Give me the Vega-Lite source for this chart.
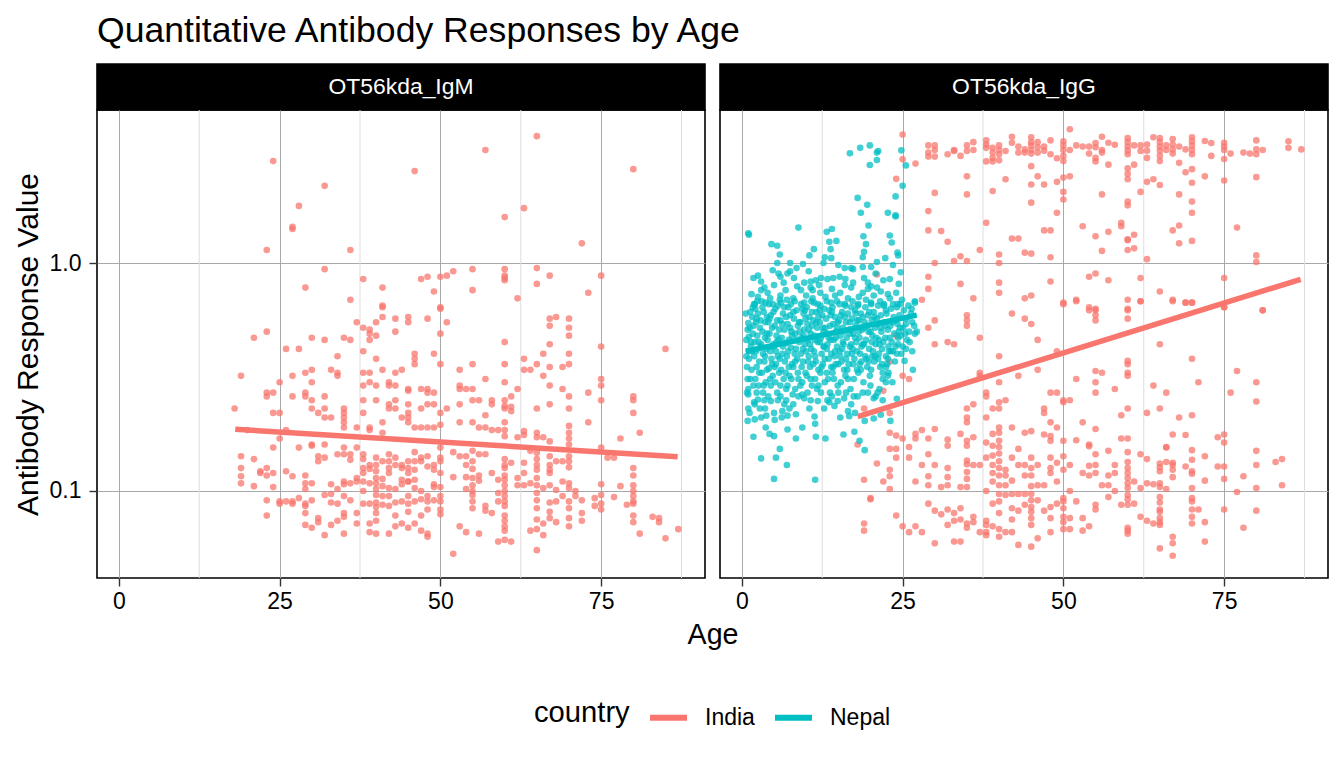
{
  "$schema": "https://vega.github.io/schema/vega-lite/v6.json",
  "padding": {"left": 12, "top": 13, "right": 10, "bottom": 5},
  "title": {"text": "Quantitative Antibody Responses by Age", "anchor": "start", "frame": "group", "fontSize": 35.6, "fontWeight": "normal", "font": "Liberation Sans", "color": "#000", "offset": 14},
  "datasets": {
    "igm_india": [
      {"age":24,"value":2.8},{"age":32,"value":2.18},{"age":28,"value":1.78},{"age":27,"value":1.44},{"age":27,"value":1.41},{"age":23,"value":1.14},{"age":36,"value":1.14},{"age":46,"value":2.53},{"age":57,"value":3.13},{"age":65,"value":3.6},{"age":80,"value":2.58},{"age":63,"value":1.74},{"age":60,"value":1.59},{"age":72,"value":1.22},
      {"age":32,"value":0.94},{"age":29,"value":0.78},{"age":36,"value":0.69},{"age":38,"value":0.85},{"age":41,"value":0.78},{"age":41,"value":0.65},{"age":41,"value":0.64},{"age":47,"value":0.85},{"age":48,"value":0.87},{"age":49,"value":0.75},{"age":50,"value":0.87},{"age":50,"value":0.64},{"age":51,"value":0.88},{"age":52,"value":0.92},{"age":55,"value":0.94},{"age":55,"value":0.76},{"age":60,"value":0.94},{"age":60,"value":0.88},{"age":60,"value":0.86},{"age":60,"value":0.84},{"age":62,"value":0.7},{"age":65,"value":0.95},{"age":65,"value":0.81},{"age":67,"value":0.88},{"age":73,"value":0.74},{"age":75,"value":0.88},
      {"age":50,"value":0.63},{"age":41,"value":0.58},{"age":43,"value":0.57},{"age":45,"value":0.58},{"age":45,"value":0.55},{"age":48,"value":0.57},{"age":51,"value":0.55},{"age":37,"value":0.55},{"age":38,"value":0.52},{"age":39,"value":0.51},{"age":39,"value":0.49},{"age":39,"value":0.46},{"age":40,"value":0.55},{"age":40,"value":0.48},{"age":43,"value":0.5},{"age":50,"value":0.49},{"age":21,"value":0.47},{"age":23,"value":0.5},{"age":30,"value":0.47},{"age":32,"value":0.46},{"age":35,"value":0.47},{"age":36,"value":0.46},{"age":26,"value":0.42},{"age":28,"value":0.42},{"age":38,"value":0.41},{"age":34,"value":0.39},{"age":46,"value":0.4},{"age":46,"value":0.38},{"age":46,"value":0.36},{"age":49,"value":0.4},{"age":50,"value":0.36},{"age":40,"value":0.38},
      {"age":19,"value":0.32},{"age":25,"value":0.3},{"age":27,"value":0.32},{"age":29,"value":0.33},{"age":30,"value":0.34},{"age":30,"value":0.3},{"age":33,"value":0.34},{"age":34,"value":0.33},{"age":34,"value":0.32},{"age":38,"value":0.33},{"age":39,"value":0.33},{"age":41,"value":0.34},{"age":43,"value":0.33},{"age":44,"value":0.34},{"age":38,"value":0.29},{"age":39,"value":0.3},{"age":40,"value":0.29},{"age":42,"value":0.3},{"age":42,"value":0.29},{"age":43,"value":0.29},{"age":45,"value":0.28},{"age":45,"value":0.275},{"age":47,"value":0.28},{"age":48,"value":0.28},{"age":48,"value":0.27},{"age":49,"value":0.27},{"age":23,"value":0.27},{"age":24,"value":0.27},{"age":23,"value":0.26},{"age":29,"value":0.27},{"age":29,"value":0.26},{"age":27,"value":0.26},{"age":30,"value":0.25},{"age":32,"value":0.26},
      {"age":18,"value":0.23},{"age":25,"value":0.22},{"age":24,"value":0.22},{"age":30,"value":0.23},{"age":31,"value":0.22},{"age":32,"value":0.23},{"age":32,"value":0.21},{"age":33,"value":0.21},{"age":35,"value":0.23},{"age":35,"value":0.22},{"age":35,"value":0.21},{"age":35,"value":0.2},{"age":35,"value":0.19},{"age":38,"value":0.25},{"age":38,"value":0.22},{"age":40,"value":0.25},{"age":42,"value":0.24},{"age":42,"value":0.23},{"age":43,"value":0.25},{"age":43,"value":0.23},{"age":45,"value":0.24},{"age":45,"value":0.22},{"age":45,"value":0.21},{"age":45,"value":0.2},{"age":47,"value":0.23},{"age":48,"value":0.24},{"age":49,"value":0.24},{"age":50,"value":0.22},{"age":51,"value":0.23},
      {"age":20,"value":0.185},{"age":26,"value":0.185},{"age":25,"value":0.17},{"age":37,"value":0.19},{"age":39,"value":0.19},{"age":39,"value":0.185},{"age":41,"value":0.2},{"age":41,"value":0.18},{"age":44,"value":0.21},{"age":46,"value":0.19},{"age":47,"value":0.19},{"age":48,"value":0.19},{"age":49,"value":0.19},{"age":50,"value":0.195},
      {"age":24,"value":0.155},{"age":28,"value":0.155},{"age":30,"value":0.16},{"age":30,"value":0.158},{"age":32,"value":0.16},{"age":34,"value":0.145},{"age":35,"value":0.155},{"age":35,"value":0.145},{"age":37,"value":0.155},{"age":19,"value":0.142},{"age":21,"value":0.138},{"age":31,"value":0.142},{"age":31,"value":0.135},{"age":32,"value":0.14},{"age":36,"value":0.145},{"age":36,"value":0.137},{"age":38,"value":0.145},{"age":38,"value":0.138},{"age":38,"value":0.126},{"age":38,"value":0.12},{"age":39,"value":0.13},{"age":39,"value":0.125},{"age":40,"value":0.14},{"age":40,"value":0.13},{"age":40,"value":0.122},{"age":40,"value":0.114},{"age":41,"value":0.135},{"age":41,"value":0.113},{"age":42,"value":0.145},{"age":42,"value":0.135},{"age":42,"value":0.126},{"age":42,"value":0.12},{"age":43,"value":0.14},{"age":43,"value":0.13},{"age":44,"value":0.13},{"age":44,"value":0.126},{"age":44,"value":0.112},{"age":45,"value":0.135},{"age":45,"value":0.126},{"age":45,"value":0.12},{"age":45,"value":0.11},{"age":46,"value":0.148},{"age":46,"value":0.135},{"age":46,"value":0.124},{"age":46,"value":0.112},{"age":47,"value":0.14},{"age":47,"value":0.135},{"age":48,"value":0.142},{"age":48,"value":0.128},{"age":49,"value":0.13},{"age":49,"value":0.124},{"age":49,"value":0.104},{"age":50,"value":0.155},{"age":50,"value":0.14},{"age":50,"value":0.135},{"age":50,"value":0.12},{"age":50,"value":0.104},
      {"age":19,"value":0.126},{"age":19,"value":0.116},{"age":19,"value":0.108},{"age":22,"value":0.122},{"age":22,"value":0.12},{"age":23,"value":0.126},{"age":23,"value":0.117},{"age":24,"value":0.12},{"age":21,"value":0.105},{"age":24,"value":0.104},{"age":26,"value":0.122},{"age":27,"value":0.116},{"age":29,"value":0.117},{"age":29,"value":0.108},{"age":29,"value":0.102},{"age":30,"value":0.108},{"age":33,"value":0.107},{"age":34,"value":0.102},{"age":35,"value":0.11},{"age":35,"value":0.107},{"age":36,"value":0.108},{"age":37,"value":0.114},{"age":37,"value":0.11},{"age":38,"value":0.11},{"age":38,"value":0.1},{"age":39,"value":0.108},{"age":40,"value":0.108},{"age":40,"value":0.102},{"age":40,"value":0.096},{"age":40,"value":0.089},{"age":40,"value":0.085},{"age":41,"value":0.105},{"age":41,"value":0.095},{"age":42,"value":0.103},{"age":42,"value":0.095},{"age":43,"value":0.102},{"age":44,"value":0.107},{"age":45,"value":0.11},{"age":46,"value":0.103},{"age":47,"value":0.1},{"age":48,"value":0.095},{"age":49,"value":0.107},{"age":50,"value":0.095},{"age":50,"value":0.09},
      {"age":23,"value":0.091},{"age":25,"value":0.09},{"age":25,"value":0.088},{"age":26,"value":0.09},{"age":27,"value":0.088},{"age":27,"value":0.09},{"age":28,"value":0.093},{"age":29,"value":0.088},{"age":29,"value":0.086},{"age":30,"value":0.091},{"age":32,"value":0.096},{"age":33,"value":0.097},{"age":33,"value":0.089},{"age":34,"value":0.088},{"age":35,"value":0.095},{"age":36,"value":0.091},{"age":38,"value":0.088},{"age":39,"value":0.088},{"age":41,"value":0.087},{"age":42,"value":0.086},{"age":43,"value":0.089},{"age":44,"value":0.09},{"age":45,"value":0.095},{"age":45,"value":0.088},{"age":46,"value":0.09},{"age":47,"value":0.092},{"age":48,"value":0.09},{"age":48,"value":0.083},{"age":49,"value":0.091},{"age":50,"value":0.083},{"age":50,"value":0.079},
      {"age":23,"value":0.078},{"age":29,"value":0.08},{"age":29,"value":0.071},{"age":30,"value":0.069},{"age":31,"value":0.076},{"age":31,"value":0.073},{"age":33,"value":0.071},{"age":34,"value":0.074},{"age":35,"value":0.08},{"age":35,"value":0.077},{"age":37,"value":0.08},{"age":37,"value":0.072},{"age":39,"value":0.072},{"age":40,"value":0.08},{"age":40,"value":0.074},{"age":43,"value":0.078},{"age":43,"value":0.07},{"age":44,"value":0.072},{"age":45,"value":0.081},{"age":45,"value":0.069},{"age":46,"value":0.072},{"age":47,"value":0.078},{"age":47,"value":0.067},{"age":48,"value":0.065},{"age":48,"value":0.063},{"age":32,"value":0.064},{"age":35,"value":0.065},{"age":39,"value":0.066},{"age":40,"value":0.065},{"age":42,"value":0.065},
      {"age":67,"value":0.57},{"age":67,"value":0.53},{"age":68,"value":0.58},{"age":70,"value":0.57},{"age":70,"value":0.52},{"age":70,"value":0.48},{"age":70,"value":0.4},{"age":70,"value":0.36},{"age":75,"value":0.43},{"age":85,"value":0.42},{"age":60,"value":0.45},{"age":60,"value":0.36},{"age":60,"value":0.3},{"age":67,"value":0.44},{"age":66,"value":0.4},{"age":65,"value":0.36},{"age":67,"value":0.35},{"age":66,"value":0.32},{"age":67,"value":0.29},{"age":67,"value":0.24},{"age":69,"value":0.35},{"age":69,"value":0.28},{"age":65,"value":0.23},{"age":63,"value":0.38},{"age":63,"value":0.34},{"age":64,"value":0.34},{"age":53,"value":0.34},{"age":55,"value":0.36},{"age":57,"value":0.31},{"age":53,"value":0.29},{"age":53,"value":0.28},{"age":54,"value":0.28},{"age":55,"value":0.28},{"age":53,"value":0.24},{"age":55,"value":0.25},{"age":56,"value":0.25},{"age":58,"value":0.25},{"age":58,"value":0.24},{"age":61,"value":0.26},{"age":62,"value":0.28},{"age":60,"value":0.25},{"age":60,"value":0.236},{"age":60,"value":0.23},{"age":61,"value":0.234},{"age":61,"value":0.224},{"age":70,"value":0.26},{"age":70,"value":0.23},{"age":73,"value":0.27},{"age":75,"value":0.31},{"age":75,"value":0.29},{"age":75,"value":0.25},{"age":80,"value":0.26},{"age":80,"value":0.25},{"age":80,"value":0.22},
      {"age":53,"value":0.2},{"age":55,"value":0.2},{"age":56,"value":0.19},{"age":57,"value":0.19},{"age":57,"value":0.215},{"age":58,"value":0.185},{"age":59,"value":0.185},{"age":60,"value":0.2},{"age":60,"value":0.185},{"age":60,"value":0.174},{"age":62,"value":0.172},{"age":63,"value":0.183},{"age":63,"value":0.176},{"age":65,"value":0.18},{"age":65,"value":0.172},{"age":66,"value":0.172},{"age":67,"value":0.165},{"age":70,"value":0.193},{"age":70,"value":0.18},{"age":70,"value":0.17},{"age":70,"value":0.16},{"age":73,"value":0.2},{"age":78,"value":0.17},{"age":81,"value":0.18},{"age":75,"value":0.155},
      {"age":52,"value":0.148},{"age":53,"value":0.142},{"age":54,"value":0.142},{"age":56,"value":0.145},{"age":57,"value":0.145},{"age":55,"value":0.15},{"age":55,"value":0.135},{"age":55,"value":0.125},{"age":60,"value":0.138},{"age":60,"value":0.13},{"age":60,"value":0.126},{"age":60,"value":0.117},{"age":60,"value":0.112},{"age":60,"value":0.106},{"age":60,"value":0.1},{"age":60,"value":0.095},{"age":61,"value":0.133},{"age":63,"value":0.133},{"age":64,"value":0.15},{"age":65,"value":0.147},{"age":65,"value":0.138},{"age":65,"value":0.13},{"age":65,"value":0.124},{"age":67,"value":0.142},{"age":67,"value":0.13},{"age":67,"value":0.124},{"age":67,"value":0.12},{"age":68,"value":0.135},{"age":69,"value":0.135},{"age":70,"value":0.142},{"age":70,"value":0.135},{"age":70,"value":0.127},{"age":76,"value":0.14},{"age":77,"value":0.14},{"age":80,"value":0.126},{"age":80,"value":0.117},{"age":80,"value":0.106},{"age":80,"value":0.1},{"age":80,"value":0.095},{"age":80,"value":0.09},{"age":80,"value":0.088},
      {"age":52,"value":0.115},{"age":54,"value":0.13},{"age":54,"value":0.115},{"age":54,"value":0.102},{"age":55,"value":0.114},{"age":55,"value":0.106},{"age":55,"value":0.1},{"age":55,"value":0.096},{"age":55,"value":0.09},{"age":55,"value":0.084},{"age":56,"value":0.117},{"age":56,"value":0.111},{"age":57,"value":0.086},{"age":57,"value":0.082},{"age":58,"value":0.08},{"age":58,"value":0.12},{"age":59,"value":0.112},{"age":59,"value":0.098},{"age":59,"value":0.09},{"age":60,"value":0.09},{"age":60,"value":0.086},{"age":60,"value":0.078},{"age":60,"value":0.074},{"age":60,"value":0.07},{"age":60,"value":0.067},{"age":62,"value":0.114},{"age":62,"value":0.106},{"age":63,"value":0.12},{"age":63,"value":0.106},{"age":64,"value":0.108},{"age":65,"value":0.114},{"age":65,"value":0.106},{"age":65,"value":0.098},{"age":65,"value":0.091},{"age":65,"value":0.084},{"age":65,"value":0.075},{"age":65,"value":0.068},{"age":66,"value":0.103},{"age":67,"value":0.106},{"age":68,"value":0.101},{"age":69,"value":0.11},{"age":69,"value":0.095},{"age":67,"value":0.089},{"age":68,"value":0.09},{"age":67,"value":0.081},{"age":67,"value":0.076},{"age":70,"value":0.108},{"age":70,"value":0.103},{"age":70,"value":0.09},{"age":70,"value":0.084},{"age":70,"value":0.076},{"age":70,"value":0.07},{"age":71,"value":0.1},{"age":72,"value":0.08},{"age":71,"value":0.095},{"age":72,"value":0.091},{"age":72,"value":0.074},{"age":74,"value":0.093},{"age":74,"value":0.086},{"age":75,"value":0.107},{"age":75,"value":0.096},{"age":75,"value":0.088},{"age":75,"value":0.083},{"age":78,"value":0.105},{"age":77,"value":0.094},{"age":79,"value":0.087},{"age":80,"value":0.078},{"age":80,"value":0.073},{"age":83,"value":0.077},{"age":84,"value":0.076},{"age":84,"value":0.073},{"age":81,"value":0.065},{"age":85,"value":0.062},{"age":87,"value":0.068},{"age":66,"value":0.064},{"age":65,"value":0.055},{"age":64,"value":0.067},{"age":59,"value":0.06},{"age":60,"value":0.061},{"age":61,"value":0.06},{"age":52,"value":0.053},{"age":56,"value":0.065},{"age":54,"value":0.066},{"age":53,"value":0.07},{"age":68,"value":0.073},{"age":66,"value":0.072}
    ],
    "igm_fit": [
      {"country":"India","age":18.1,"value":0.1865},{"country":"India","age":86.9,"value":0.1414}
    ],
    "igg_india": [
      {"age":25,"value":3.66},{"age":25,"value":2.85},{"age":27,"value":2.73},{"age":29,"value":3.28},{"age":29,"value":3.05},{"age":29,"value":2.93},{"age":30,"value":3.28},{"age":30,"value":3.13},{"age":30,"value":2.93},{"age":32,"value":3.0},{"age":33,"value":3.13},{"age":33,"value":3.1},{"age":34,"value":2.95},{"age":35,"value":3.28},{"age":35,"value":3.1},{"age":36,"value":3.39},{"age":36,"value":3.13},{"age":38,"value":3.45},{"age":38,"value":3.31},{"age":38,"value":3.2},{"age":38,"value":2.79},{"age":39,"value":3.2},{"age":39,"value":3.05},{"age":39,"value":2.89},{"age":39,"value":2.79},{"age":40,"value":3.28},{"age":40,"value":3.13},{"age":40,"value":3.0},{"age":40,"value":2.82},{"age":41,"value":3.1},{"age":42,"value":3.58},{"age":42,"value":3.37},{"age":43,"value":3.24},{"age":43,"value":3.05},{"age":44,"value":3.15},{"age":44,"value":3.05},{"age":45,"value":3.56},{"age":45,"value":3.39},{"age":45,"value":3.28},{"age":45,"value":3.13},{"age":45,"value":3.02},{"age":46,"value":3.39},{"age":46,"value":3.22},{"age":46,"value":3.05},{"age":47,"value":3.24},{"age":47,"value":3.11},{"age":48,"value":3.45},{"age":48,"value":3.0},{"age":49,"value":2.88},{"age":50,"value":3.42},{"age":50,"value":3.28},{"age":50,"value":3.13},{"age":50,"value":2.95},{"age":50,"value":2.8},{"age":51,"value":3.86},{"age":51,"value":3.13},{"age":52,"value":3.28},{"age":53,"value":3.24},{"age":54,"value":3.24},{"age":54,"value":3.02},{"age":55,"value":3.36},{"age":55,"value":3.22},{"age":55,"value":2.89},{"age":55,"value":2.79},{"age":56,"value":3.58},{"age":56,"value":3.13},{"age":56,"value":3.05},{"age":57,"value":3.37},{"age":58,"value":3.3},{"age":60,"value":3.53},{"age":60,"value":3.39},{"age":60,"value":3.24},{"age":60,"value":3.11},{"age":60,"value":3.0},{"age":61,"value":3.28},{"age":62,"value":3.28},{"age":62,"value":3.1},{"age":63,"value":3.31},{"age":63,"value":3.11},{"age":63,"value":2.89},{"age":64,"value":3.56},{"age":65,"value":3.53},{"age":65,"value":3.39},{"age":65,"value":3.24},{"age":65,"value":3.11},{"age":65,"value":2.95},{"age":65,"value":2.8},{"age":66,"value":3.28},{"age":66,"value":3.13},{"age":67,"value":3.5},{"age":67,"value":3.31},{"age":67,"value":3.15},{"age":67,"value":3.02},{"age":68,"value":3.24},{"age":68,"value":2.75},{"age":69,"value":3.15},{"age":70,"value":3.56},{"age":70,"value":3.42},{"age":70,"value":3.28},{"age":70,"value":3.13},{"age":70,"value":3.0},{"age":72,"value":3.43},{"age":73,"value":3.36},{"age":73,"value":2.95},{"age":75,"value":3.37},{"age":75,"value":3.24},{"age":75,"value":3.13},{"age":75,"value":2.86},{"age":76,"value":3.02},{"age":78,"value":3.05},{"age":79,"value":3.02},{"age":80,"value":3.45},{"age":80,"value":3.15},{"age":80,"value":3.0},{"age":81,"value":3.13},{"age":85,"value":3.42},{"age":85,"value":3.2},{"age":87,"value":3.15},
      {"age":24,"value":2.34},{"age":30,"value":2.03},{"age":35,"value":2.4},{"age":35,"value":2.0},{"age":39,"value":2.07},{"age":41,"value":2.33},{"age":45,"value":2.66},{"age":45,"value":2.21},{"age":45,"value":1.84},{"age":46,"value":2.4},{"age":47,"value":2.21},{"age":49,"value":2.27},{"age":49,"value":1.66},{"age":50,"value":2.37},{"age":50,"value":2.05},{"age":50,"value":1.9},{"age":51,"value":2.4},{"age":56,"value":2.0},{"age":57,"value":2.7},{"age":60,"value":2.6},{"age":60,"value":2.46},{"age":60,"value":2.33},{"age":60,"value":1.86},{"age":60,"value":1.79},{"age":61,"value":2.7},{"age":62,"value":2.05},{"age":63,"value":2.27},{"age":64,"value":2.33},{"age":65,"value":2.2},{"age":68,"value":2.0},{"age":69,"value":2.5},{"age":70,"value":2.58},{"age":70,"value":2.25},{"age":70,"value":1.86},{"age":70,"value":1.66},{"age":72,"value":2.4},{"age":75,"value":2.3},{"age":80,"value":2.38},{"age":29,"value":1.69},{"age":38,"value":1.5},{"age":48,"value":1.39},{"age":53,"value":1.45},{"age":29,"value":1.39},{"age":31,"value":1.38},{"age":32,"value":1.24},{"age":42,"value":1.28},{"age":43,"value":1.28},{"age":47,"value":1.39},{"age":55,"value":1.31},{"age":57,"value":1.37},{"age":59,"value":1.5},{"age":59,"value":1.45},{"age":60,"value":1.27},{"age":60,"value":1.26},{"age":61,"value":1.33},{"age":67,"value":1.39},{"age":68,"value":1.46},{"age":68,"value":1.22},{"age":70,"value":1.25},{"age":77,"value":1.43},{"age":34,"value":1.07},{"age":35,"value":1.02},{"age":33,"value":1.02},{"age":37,"value":1.14},{"age":40,"value":1.09},{"age":40,"value":1.0},{"age":44,"value":1.11},{"age":45,"value":1.1},{"age":48,"value":1.06},{"age":56,"value":1.13},{"age":60,"value":1.14},{"age":61,"value":1.16},{"age":63,"value":1.04},{"age":80,"value":1.08},{"age":80,"value":1.01},{"age":30,"value":1.0},
      {"age":21,"value":0.89},{"age":29,"value":0.87},{"age":29,"value":0.77},{"age":34,"value":0.81},{"age":40,"value":0.82},{"age":40,"value":0.74},{"age":48,"value":0.83},{"age":54,"value":0.87},{"age":55,"value":0.9},{"age":57,"value":0.84},{"age":62,"value":0.86},{"age":75,"value":0.86},{"age":65,"value":0.75},{"age":36,"value":0.7},{"age":44,"value":0.7},{"age":45,"value":0.72},{"age":28,"value":0.69},{"age":52,"value":0.69},{"age":60,"value":0.69},{"age":62,"value":0.68},{"age":67,"value":0.69},{"age":69,"value":0.67},{"age":70,"value":0.67},{"age":50,"value":0.66},{"age":54,"value":0.64},{"age":55,"value":0.63},{"age":60,"value":0.63},{"age":75,"value":0.64},{"age":81,"value":0.62},
      {"age":35,"value":0.59},{"age":35,"value":0.56},{"age":35,"value":0.53},{"age":42,"value":0.6},{"age":44,"value":0.57},{"age":45,"value":0.54},{"age":46,"value":0.46},{"age":50,"value":0.67},{"age":52,"value":0.68},{"age":29,"value":0.52},{"age":30,"value":0.56},{"age":32,"value":0.45},{"age":33,"value":0.44},{"age":30,"value":0.44},{"age":37,"value":0.47},{"age":40,"value":0.39},{"age":49,"value":0.41},{"age":46,"value":0.34},{"age":43,"value":0.32},{"age":40,"value":0.3},{"age":37,"value":0.33},{"age":37,"value":0.32},{"age":52,"value":0.31},{"age":24,"value":0.48},{"age":23,"value":0.37},{"age":22,"value":0.275},{"age":25,"value":0.32},{"age":26,"value":0.31},{"age":38,"value":0.27},{"age":38,"value":0.26},{"age":41,"value":0.25},{"age":40,"value":0.245},{"age":40,"value":0.23},{"age":39,"value":0.23},{"age":36,"value":0.24},{"age":35,"value":0.23},{"age":48,"value":0.27},{"age":49,"value":0.27},{"age":50,"value":0.25},{"age":50,"value":0.245},{"age":51,"value":0.25},{"age":47,"value":0.23},{"age":47,"value":0.22},{"age":19,"value":0.23},{"age":23,"value":0.22},{"age":35,"value":0.21},{"age":35,"value":0.2},{"age":38,"value":0.21},{"age":40,"value":0.19},{"age":40,"value":0.18},{"age":42,"value":0.19},{"age":48,"value":0.2},{"age":49,"value":0.19},{"age":53,"value":0.2},
      {"age":23,"value":0.18},{"age":24,"value":0.175},{"age":25,"value":0.17},{"age":27,"value":0.178},{"age":27,"value":0.17},{"age":28,"value":0.185},{"age":29,"value":0.17},{"age":30,"value":0.187},{"age":34,"value":0.178},{"age":36,"value":0.172},{"age":32,"value":0.168},{"age":32,"value":0.158},{"age":35,"value":0.166},{"age":35,"value":0.158},{"age":38,"value":0.163},{"age":39,"value":0.178},{"age":39,"value":0.158},{"age":40,"value":0.166},{"age":40,"value":0.156},{"age":40,"value":0.146},{"age":44,"value":0.18},{"age":45,"value":0.183},{"age":47,"value":0.177},{"age":48,"value":0.174},{"age":48,"value":0.166},{"age":50,"value":0.166},{"age":52,"value":0.167},{"age":54,"value":0.16},{"age":23,"value":0.153},{"age":24,"value":0.153},{"age":24,"value":0.14},{"age":26,"value":0.156},{"age":26,"value":0.14},{"age":29,"value":0.145},{"age":18,"value":0.16},
      {"age":19,"value":0.112},{"age":20,"value":0.093},{"age":22,"value":0.11},{"age":23,"value":0.124},{"age":23,"value":0.116},{"age":23,"value":0.102},{"age":21,"value":0.132},{"age":27,"value":0.11},{"age":28,"value":0.13},{"age":29,"value":0.116},{"age":29,"value":0.106},{"age":30,"value":0.13},{"age":31,"value":0.104},{"age":32,"value":0.126},{"age":32,"value":0.115},{"age":32,"value":0.106},{"age":34,"value":0.104},{"age":35,"value":0.136},{"age":35,"value":0.131},{"age":35,"value":0.121},{"age":35,"value":0.113},{"age":35,"value":0.104},{"age":36,"value":0.13},{"age":37,"value":0.13},{"age":38,"value":0.14},{"age":38,"value":0.1},{"age":39,"value":0.143},{"age":39,"value":0.13},{"age":39,"value":0.12},{"age":39,"value":0.11},{"age":39,"value":0.088},{"age":40,"value":0.135},{"age":40,"value":0.126},{"age":40,"value":0.117},{"age":40,"value":0.106},{"age":40,"value":0.097},{"age":40,"value":0.09},{"age":40,"value":0.08},{"age":40,"value":0.068},{"age":40,"value":0.063},{"age":41,"value":0.124},{"age":41,"value":0.117},{"age":41,"value":0.106},{"age":41,"value":0.096},{"age":42,"value":0.14},{"age":42,"value":0.111},{"age":42,"value":0.097},{"age":42,"value":0.084},{"age":42,"value":0.075},{"age":43,"value":0.153},{"age":43,"value":0.13},{"age":43,"value":0.097},{"age":43,"value":0.082},{"age":44,"value":0.13},{"age":44,"value":0.117},{"age":44,"value":0.097},{"age":44,"value":0.087},{"age":45,"value":0.14},{"age":45,"value":0.126},{"age":45,"value":0.117},{"age":45,"value":0.105},{"age":45,"value":0.097},{"age":45,"value":0.091},{"age":45,"value":0.085},{"age":45,"value":0.081},{"age":45,"value":0.076},{"age":45,"value":0.071},{"age":46,"value":0.13},{"age":46,"value":0.106},{"age":46,"value":0.091},{"age":47,"value":0.106},{"age":47,"value":0.082},{"age":48,"value":0.14},{"age":48,"value":0.126},{"age":48,"value":0.12},{"age":48,"value":0.085},{"age":48,"value":0.076},{"age":49,"value":0.133},{"age":49,"value":0.11},{"age":49,"value":0.088},{"age":50,"value":0.142},{"age":50,"value":0.124},{"age":50,"value":0.093},{"age":50,"value":0.09},{"age":50,"value":0.084},{"age":50,"value":0.077},{"age":50,"value":0.073},{"age":50,"value":0.068},{"age":51,"value":0.13},{"age":51,"value":0.1},{"age":51,"value":0.068},{"age":52,"value":0.09},{"age":53,"value":0.12},{"age":53,"value":0.067},
      {"age":19,"value":0.072},{"age":19,"value":0.067},{"age":20,"value":0.092},{"age":24,"value":0.078},{"age":25,"value":0.07},{"age":26,"value":0.066},{"age":27,"value":0.07},{"age":28,"value":0.066},{"age":29,"value":0.088},{"age":30,"value":0.082},{"age":30,"value":0.059},{"age":31,"value":0.079},{"age":32,"value":0.083},{"age":32,"value":0.071},{"age":33,"value":0.08},{"age":33,"value":0.074},{"age":33,"value":0.06},{"age":34,"value":0.084},{"age":34,"value":0.075},{"age":34,"value":0.06},{"age":35,"value":0.072},{"age":35,"value":0.069},{"age":36,"value":0.077},{"age":36,"value":0.073},{"age":37,"value":0.066},{"age":38,"value":0.074},{"age":38,"value":0.071},{"age":38,"value":0.066},{"age":38,"value":0.064},{"age":39,"value":0.07},{"age":41,"value":0.066},{"age":42,"value":0.066},{"age":43,"value":0.058},{"age":45,"value":0.057},{"age":46,"value":0.062},{"age":48,"value":0.066},{"age":51,"value":0.076},{"age":53,"value":0.076},
      {"age":55,"value":0.62},{"age":55,"value":0.59},{"age":55,"value":0.56},{"age":54,"value":0.62},{"age":60,"value":0.62},{"age":60,"value":0.57},{"age":62,"value":0.68},{"age":67,"value":0.68},{"age":69,"value":0.67},{"age":70,"value":0.67},{"age":75,"value":0.64},{"age":81,"value":0.62},{"age":65,"value":0.44},{"age":70,"value":0.38},{"age":55,"value":0.336},{"age":56,"value":0.33},{"age":60,"value":0.372},{"age":60,"value":0.36},{"age":60,"value":0.33},{"age":60,"value":0.32},{"age":55,"value":0.3},{"age":55,"value":0.27},{"age":58,"value":0.28},{"age":64,"value":0.29},{"age":66,"value":0.27},{"age":71,"value":0.3},{"age":77,"value":0.336},{"age":76,"value":0.27},{"age":80,"value":0.3},{"age":80,"value":0.247},{"age":59,"value":0.215},{"age":60,"value":0.23},{"age":63,"value":0.22},{"age":65,"value":0.23},{"age":68,"value":0.21},{"age":70,"value":0.215},{"age":55,"value":0.187},{"age":59,"value":0.17},{"age":60,"value":0.17},{"age":67,"value":0.177},{"age":69,"value":0.176},{"age":74,"value":0.172},{"age":75,"value":0.177},{"age":75,"value":0.163},{"age":66,"value":0.155},{"age":54,"value":0.157},
      {"age":55,"value":0.145},{"age":57,"value":0.15},{"age":60,"value":0.148},{"age":60,"value":0.134},{"age":60,"value":0.126},{"age":60,"value":0.12},{"age":60,"value":0.114},{"age":60,"value":0.108},{"age":60,"value":0.103},{"age":60,"value":0.096},{"age":60,"value":0.092},{"age":60,"value":0.087},{"age":62,"value":0.145},{"age":63,"value":0.138},{"age":65,"value":0.132},{"age":65,"value":0.127},{"age":65,"value":0.122},{"age":66,"value":0.134},{"age":67,"value":0.133},{"age":67,"value":0.124},{"age":67,"value":0.115},{"age":69,"value":0.128},{"age":70,"value":0.151},{"age":70,"value":0.137},{"age":70,"value":0.122},{"age":70,"value":0.119},{"age":70,"value":0.103},{"age":70,"value":0.093},{"age":70,"value":0.09},{"age":70,"value":0.083},{"age":70,"value":0.077},{"age":70,"value":0.072},{"age":72,"value":0.142},{"age":72,"value":0.111},{"age":74,"value":0.128},{"age":75,"value":0.128},{"age":75,"value":0.113},{"age":78,"value":0.116},{"age":80,"value":0.15},{"age":80,"value":0.13},{"age":80,"value":0.103},{"age":83,"value":0.134},{"age":84,"value":0.138},{"age":84,"value":0.106},
      {"age":54,"value":0.129},{"age":54,"value":0.117},{"age":55,"value":0.13},{"age":55,"value":0.12},{"age":55,"value":0.087},{"age":55,"value":0.083},{"age":56,"value":0.106},{"age":57,"value":0.117},{"age":57,"value":0.106},{"age":57,"value":0.094},{"age":58,"value":0.13},{"age":58,"value":0.12},{"age":58,"value":0.1},{"age":59,"value":0.087},{"age":61,"value":0.11},{"age":61,"value":0.088},{"age":62,"value":0.103},{"age":62,"value":0.077},{"age":63,"value":0.108},{"age":63,"value":0.074},{"age":64,"value":0.107},{"age":64,"value":0.072},{"age":65,"value":0.108},{"age":65,"value":0.104},{"age":65,"value":0.094},{"age":65,"value":0.089},{"age":65,"value":0.083},{"age":65,"value":0.081},{"age":65,"value":0.076},{"age":65,"value":0.073},{"age":65,"value":0.071},{"age":65,"value":0.056},{"age":66,"value":0.156},{"age":66,"value":0.102},{"age":67,"value":0.13},{"age":67,"value":0.063},{"age":67,"value":0.059},{"age":67,"value":0.052},{"age":71,"value":0.083},{"age":72,"value":0.073},{"age":72,"value":0.06},{"age":75,"value":0.083},{"age":77,"value":0.099},{"age":78,"value":0.069},{"age":80,"value":0.082},{"age":60,"value":0.069},{"age":60,"value":0.067},{"age":60,"value":0.065},{"age":54,"value":0.07}
    ],
    "igg_nepal": [
      {"age":16.8,"value":3.03},{"age":18.4,"value":3.2},{"age":19.9,"value":3.28},{"age":21,"value":3.05},{"age":21.2,"value":3.1},{"age":21,"value":2.83},{"age":19.9,"value":2.69},{"age":24.8,"value":3.12},{"age":25.5,"value":2.68},{"age":25,"value":2.18},{"age":23.9,"value":1.96},{"age":18,"value":1.93},{"age":19.5,"value":1.8},{"age":18.5,"value":1.66},{"age":22.7,"value":1.66},{"age":23.9,"value":1.62},{"age":23.9,"value":1.6},{"age":19.7,"value":1.46},{"age":8.8,"value":1.43},{"age":1,"value":1.35},{"age":1.1,"value":1.33},{"age":13.2,"value":1.37},{"age":14,"value":1.41},{"age":18.9,"value":1.31},{"age":23,"value":1.32},{"age":13.6,"value":1.24},{"age":14.7,"value":1.25},{"age":4.6,"value":1.21},{"age":5.5,"value":1.19},{"age":19.3,"value":1.21},{"age":23.3,"value":1.23},{"age":11.2,"value":1.15},{"age":13.8,"value":1.15},{"age":19,"value":1.12},{"age":24.2,"value":1.11},{"age":24.3,"value":1.08},{"age":5.9,"value":1.09},{"age":10.5,"value":1.08},{"age":12.9,"value":1.06},{"age":13.9,"value":1.05},{"age":18.8,"value":1.06},{"age":22.3,"value":1.05},
      {"age":5.5,"value":1.0},{"age":7.5,"value":1.0},{"age":9.5,"value":0.99},{"age":12.7,"value":1.0},{"age":15,"value":0.98},{"age":16,"value":0.95},{"age":17,"value":0.95},{"age":17.3,"value":0.94},{"age":18.8,"value":0.96},{"age":20.1,"value":0.96},{"age":21,"value":1.01},{"age":23.5,"value":0.98},{"age":24.7,"value":0.91},{"age":4.8,"value":0.93},{"age":5.7,"value":0.9},{"age":7.1,"value":0.9},{"age":7.5,"value":0.92},{"age":10.4,"value":0.92},{"age":1.8,"value":0.86},{"age":3,"value":0.83},{"age":8.1,"value":0.86},{"age":9.7,"value":0.82},{"age":10.7,"value":0.83},{"age":11.5,"value":0.84},{"age":12.3,"value":0.86},{"age":13.3,"value":0.85},{"age":14.2,"value":0.86},{"age":15.2,"value":0.87},{"age":16.1,"value":0.85},{"age":17.3,"value":0.82},{"age":19.6,"value":0.82},{"age":20.1,"value":0.79},{"age":22,"value":0.84},{"age":23,"value":0.85},{"age":24.4,"value":0.81},{"age":1.5,"value":0.73},{"age":3.5,"value":0.78},{"age":4,"value":0.74},{"age":5,"value":0.8},{"age":6.5,"value":0.82},{"age":9.2,"value":0.76},{"age":10.7,"value":0.78},{"age":12.2,"value":0.74},{"age":15.3,"value":0.74},{"age":17,"value":0.78},{"age":18.8,"value":0.74},{"age":19.6,"value":0.77},{"age":21.6,"value":0.75},{"age":22.7,"value":0.73},{"age":24,"value":0.74},{"age":24.9,"value":0.69},{"age":26.9,"value":0.67},
      {"age":2,"value":0.66},{"age":3.7,"value":0.67},{"age":5.6,"value":0.65},{"age":7.6,"value":0.66},{"age":9.7,"value":0.67},{"age":11.8,"value":0.66},{"age":13.9,"value":0.67},{"age":16,"value":0.66},{"age":18,"value":0.65},{"age":20.1,"value":0.66},{"age":22.1,"value":0.65},{"age":24.2,"value":0.66},{"age":2.5,"value":0.71},{"age":4.4,"value":0.7},{"age":6,"value":0.72},{"age":8,"value":0.7},{"age":10,"value":0.72},{"age":11,"value":0.7},{"age":13,"value":0.71},{"age":14.5,"value":0.72},{"age":16.5,"value":0.7},{"age":18.2,"value":0.71},{"age":20.5,"value":0.72},{"age":23,"value":0.7},{"age":6.8,"value":0.76},{"age":8.6,"value":0.79},{"age":11,"value":0.76},{"age":14,"value":0.77},{"age":16,"value":0.8},{"age":21,"value":0.78},{"age":3,"value":0.76},{"age":12,"value":0.8},{"age":19,"value":0.86},{"age":20.8,"value":0.9},{"age":8.5,"value":0.95},{"age":2.5,"value":0.88},{"age":6,"value":0.87},
      {"age":0.9,"value":0.203},{"age":2.0,"value":0.206},{"age":3.0,"value":0.21},{"age":3.8,"value":0.214},{"age":5.1,"value":0.205},{"age":6.2,"value":0.21},{"age":7.1,"value":0.214},{"age":8.4,"value":0.217},{"age":3.7,"value":0.19},{"age":4.3,"value":0.178},{"age":5,"value":0.174},{"age":7.1,"value":0.186},{"age":8.4,"value":0.17},{"age":9.4,"value":0.19},{"age":11.3,"value":0.212},{"age":11.4,"value":0.197},{"age":11.5,"value":0.173},{"age":13,"value":0.17},{"age":1.8,"value":0.173},{"age":5.9,"value":0.153},{"age":5.3,"value":0.14},{"age":3,"value":0.139},{"age":7,"value":0.13},{"age":5,"value":0.113},{"age":11.4,"value":0.112},{"age":15.8,"value":0.177},{"age":17.5,"value":0.182},{"age":18.3,"value":0.166},{"age":19.1,"value":0.151},{"age":15.3,"value":0.21},{"age":16.7,"value":0.213},{"age":17.6,"value":0.22},{"age":20.5,"value":0.208},{"age":21.6,"value":0.216},{"age":19.1,"value":0.203},{"age":23.1,"value":0.203},
      {"age":20.5,"value":0.255},{"age":20.8,"value":0.26},{"age":21.9,"value":0.25},{"age":21.4,"value":0.28},{"age":24.1,"value":0.254},{"age":22.4,"value":0.3},{"age":22.8,"value":0.33},{"age":22.4,"value":0.35},{"age":25.3,"value":0.372},{"age":26.6,"value":0.34},{"age":26.5,"value":0.41},{"age":25.5,"value":0.42},{"age":26.8,"value":0.53},{"age":27.2,"value":0.5},{"age":26.9,"value":0.49},{"age":23.2,"value":0.41},{"age":24.1,"value":0.4},{"age":21.9,"value":0.33},{"age":22.7,"value":0.32},{"age":0.8,"value":0.27},{"age":1,"value":0.265},{"age":2,"value":0.24},{"age":0.9,"value":0.31},{"age":1,"value":0.28},{"age":1.1,"value":0.475},{"age":1.4,"value":0.45},{"age":1.1,"value":0.41},{"age":1.1,"value":0.38},{"age":1.3,"value":0.61},{"age":1.7,"value":0.64},{"age":1,"value":0.545},{"age":26.9,"value":0.68},{"age":24.6,"value":0.66},{"age":12.8,"value":0.23},{"age":13.6,"value":0.245},{"age":14.4,"value":0.236},{"age":14.9,"value":0.248},{"age":15.9,"value":0.255},{"age":17,"value":0.24},{"age":16.5,"value":0.224},{"age":11.8,"value":0.248},{"age":10.7,"value":0.25},{"age":9.7,"value":0.255},{"age":9.4,"value":0.265},{"age":6.6,"value":0.24},{"age":5.6,"value":0.25},{"age":4.5,"value":0.248},{"age":3.5,"value":0.25},{"age":2.5,"value":0.252},{"age":1.9,"value":0.245},{"age":6.3,"value":0.224},{"age":7.4,"value":0.23},
      {"age":0.6,"value":0.6},{"age":1.2,"value":0.52},{"age":0.7,"value":0.46},{"age":1.4,"value":0.43},{"age":1.6,"value":0.58},{"age":1.9,"value":0.66},{"age":0.8,"value":0.35},
      {"age":2.1,"value":0.63},{"age":2.3,"value":0.57},{"age":1.8,"value":0.53},{"age":2.4,"value":0.48},{"age":2.0,"value":0.45},{"age":2.2,"value":0.41},{"age":1.9,"value":0.39},{"age":2.3,"value":0.35},{"age":2.1,"value":0.31},{"age":2.6,"value":0.29},{"age":2.5,"value":0.6},{"age":2.8,"value":0.52},
      {"age":3.1,"value":0.68},{"age":3.4,"value":0.61},{"age":2.9,"value":0.56},{"age":3.2,"value":0.5},{"age":3.6,"value":0.47},{"age":3.0,"value":0.44},{"age":3.3,"value":0.4},{"age":3.5,"value":0.37},{"age":3.1,"value":0.33},{"age":3.7,"value":0.3},{"age":3.3,"value":0.27},{"age":3.9,"value":0.58},{"age":3.8,"value":0.42},
      {"age":4.2,"value":0.66},{"age":4.5,"value":0.59},{"age":4.1,"value":0.55},{"age":4.7,"value":0.52},{"age":4.3,"value":0.49},{"age":4.9,"value":0.44},{"age":4.4,"value":0.41},{"age":4.6,"value":0.38},{"age":4.2,"value":0.345},{"age":4.8,"value":0.32},{"age":4.5,"value":0.29},{"age":5.2,"value":0.63},{"age":5.5,"value":0.56},{"age":5.1,"value":0.53},{"age":5.4,"value":0.48},{"age":5.7,"value":0.46},{"age":5.0,"value":0.43},{"age":5.6,"value":0.39},{"age":5.3,"value":0.36},{"age":5.8,"value":0.33},{"age":5.2,"value":0.3},{"age":5.5,"value":0.27},{"age":5.9,"value":0.69},
      {"age":6.1,"value":0.67},{"age":6.4,"value":0.6},{"age":6.0,"value":0.56},{"age":6.6,"value":0.51},{"age":6.2,"value":0.47},{"age":6.8,"value":0.445},{"age":6.3,"value":0.4},{"age":6.7,"value":0.37},{"age":6.1,"value":0.34},{"age":6.5,"value":0.31},{"age":6.9,"value":0.28},{"age":7.2,"value":0.64},{"age":7.5,"value":0.59},{"age":7.1,"value":0.54},{"age":7.7,"value":0.5},{"age":7.3,"value":0.46},{"age":7.6,"value":0.425},{"age":7.0,"value":0.39},{"age":7.8,"value":0.36},{"age":7.4,"value":0.32},{"age":7.1,"value":0.29},{"age":7.9,"value":0.265},
      {"age":8.2,"value":0.68},{"age":8.5,"value":0.62},{"age":8.1,"value":0.57},{"age":8.7,"value":0.53},{"age":8.3,"value":0.49},{"age":8.9,"value":0.45},{"age":8.4,"value":0.42},{"age":8.6,"value":0.38},{"age":8.0,"value":0.35},{"age":8.8,"value":0.31},{"age":8.3,"value":0.28},{"age":9.2,"value":0.66},{"age":9.6,"value":0.6},{"age":9.1,"value":0.55},{"age":9.7,"value":0.51},{"age":9.3,"value":0.47},{"age":9.8,"value":0.44},{"age":9.2,"value":0.4},{"age":9.5,"value":0.37},{"age":9.9,"value":0.33},{"age":9.4,"value":0.3},
      {"age":10.1,"value":0.64},{"age":10.5,"value":0.58},{"age":10.2,"value":0.54},{"age":10.7,"value":0.49},{"age":10.3,"value":0.46},{"age":10.8,"value":0.42},{"age":10.4,"value":0.39},{"age":10.6,"value":0.35},{"age":10.1,"value":0.32},{"age":10.9,"value":0.29},{"age":11.2,"value":0.67},{"age":11.6,"value":0.61},{"age":11.1,"value":0.56},{"age":11.7,"value":0.52},{"age":11.3,"value":0.48},{"age":11.8,"value":0.45},{"age":11.2,"value":0.41},{"age":11.5,"value":0.37},{"age":11.9,"value":0.34},{"age":11.4,"value":0.31},{"age":11.7,"value":0.28},
      {"age":12.2,"value":0.65},{"age":12.5,"value":0.59},{"age":12.1,"value":0.55},{"age":12.7,"value":0.5},{"age":12.3,"value":0.47},{"age":12.8,"value":0.43},{"age":12.4,"value":0.4},{"age":12.6,"value":0.36},{"age":12.2,"value":0.33},{"age":12.9,"value":0.3},{"age":13.2,"value":0.68},{"age":13.6,"value":0.62},{"age":13.1,"value":0.57},{"age":13.7,"value":0.53},{"age":13.3,"value":0.49},{"age":13.8,"value":0.46},{"age":13.2,"value":0.42},{"age":13.5,"value":0.38},{"age":13.9,"value":0.35},{"age":13.4,"value":0.31},{"age":13.7,"value":0.27},
      {"age":14.1,"value":0.64},{"age":14.5,"value":0.58},{"age":14.2,"value":0.54},{"age":14.7,"value":0.5},{"age":14.3,"value":0.46},{"age":14.8,"value":0.43},{"age":14.4,"value":0.39},{"age":14.6,"value":0.36},{"age":14.1,"value":0.33},{"age":14.9,"value":0.29},{"age":15.2,"value":0.66},{"age":15.6,"value":0.61},{"age":15.1,"value":0.56},{"age":15.7,"value":0.52},{"age":15.3,"value":0.48},{"age":15.8,"value":0.44},{"age":15.2,"value":0.41},{"age":15.5,"value":0.37},{"age":15.9,"value":0.34},{"age":15.4,"value":0.3},
      {"age":16.1,"value":0.65},{"age":16.5,"value":0.6},{"age":16.2,"value":0.55},{"age":16.7,"value":0.51},{"age":16.3,"value":0.47},{"age":16.8,"value":0.43},{"age":16.4,"value":0.4},{"age":16.6,"value":0.36},{"age":16.1,"value":0.32},{"age":16.9,"value":0.28},{"age":17.2,"value":0.68},{"age":17.6,"value":0.62},{"age":17.1,"value":0.57},{"age":17.7,"value":0.53},{"age":17.3,"value":0.49},{"age":17.8,"value":0.45},{"age":17.2,"value":0.42},{"age":17.5,"value":0.38},{"age":17.9,"value":0.34},{"age":17.4,"value":0.31},
      {"age":18.1,"value":0.66},{"age":18.5,"value":0.6},{"age":18.2,"value":0.56},{"age":18.7,"value":0.51},{"age":18.3,"value":0.47},{"age":18.8,"value":0.44},{"age":18.4,"value":0.4},{"age":18.6,"value":0.37},{"age":18.1,"value":0.33},{"age":18.9,"value":0.3},{"age":19.2,"value":0.64},{"age":19.6,"value":0.59},{"age":19.1,"value":0.55},{"age":19.7,"value":0.5},{"age":19.3,"value":0.46},{"age":19.8,"value":0.42},{"age":19.2,"value":0.39},{"age":19.5,"value":0.35},{"age":19.9,"value":0.32},
      {"age":20.1,"value":0.67},{"age":20.5,"value":0.61},{"age":20.2,"value":0.56},{"age":20.7,"value":0.52},{"age":20.3,"value":0.48},{"age":20.8,"value":0.44},{"age":20.4,"value":0.41},{"age":20.6,"value":0.37},{"age":20.1,"value":0.34},{"age":21.2,"value":0.65},{"age":21.6,"value":0.59},{"age":21.1,"value":0.54},{"age":21.7,"value":0.5},{"age":21.3,"value":0.46},{"age":21.8,"value":0.42},{"age":21.2,"value":0.38},{"age":21.5,"value":0.35},{"age":21.9,"value":0.31},
      {"age":22.1,"value":0.66},{"age":22.5,"value":0.6},{"age":22.2,"value":0.55},{"age":22.7,"value":0.51},{"age":22.3,"value":0.47},{"age":22.8,"value":0.43},{"age":22.4,"value":0.39},{"age":22.6,"value":0.36},{"age":23.2,"value":0.63},{"age":23.6,"value":0.58},{"age":23.1,"value":0.53},{"age":23.7,"value":0.49},{"age":23.3,"value":0.45},{"age":23.8,"value":0.37},
      {"age":24.1,"value":0.64},{"age":24.5,"value":0.59},{"age":24.2,"value":0.54},{"age":24.7,"value":0.48},{"age":24.3,"value":0.44},{"age":25.2,"value":0.62},{"age":25.6,"value":0.57},{"age":25.1,"value":0.52},{"age":25.7,"value":0.46},{"age":26.3,"value":0.6},{"age":26.5,"value":0.55},{"age":25.9,"value":0.65},
      {"age":1.5,"value":0.34},{"age":1.7,"value":0.49},{"age":2.7,"value":0.37},{"age":2.9,"value":0.43},{"age":3.6,"value":0.55},{"age":3.9,"value":0.34},{"age":4.0,"value":0.46},{"age":4.7,"value":0.36},{"age":5.3,"value":0.41},{"age":5.8,"value":0.51},{"age":6.4,"value":0.43},{"age":6.9,"value":0.58},{"age":7.3,"value":0.35},{"age":7.8,"value":0.48},{"age":8.2,"value":0.4},{"age":8.7,"value":0.33},{"age":9.0,"value":0.5},{"age":9.5,"value":0.42},{"age":9.9,"value":0.57},{"age":10.3,"value":0.37},{"age":10.6,"value":0.44},{"age":10.9,"value":0.53},{"age":11.4,"value":0.39},{"age":11.9,"value":0.58},{"age":12.1,"value":0.45},{"age":12.6,"value":0.52},{"age":12.9,"value":0.38},{"age":13.3,"value":0.44},{"age":13.8,"value":0.59},{"age":14.2,"value":0.35},{"age":14.6,"value":0.47},{"age":14.9,"value":0.55},{"age":15.3,"value":0.39},{"age":15.7,"value":0.45},{"age":16.0,"value":0.58},{"age":16.4,"value":0.34},{"age":16.8,"value":0.49},{"age":17.1,"value":0.4},{"age":17.6,"value":0.47},{"age":17.9,"value":0.56},{"age":18.3,"value":0.36},{"age":18.6,"value":0.43},{"age":19.0,"value":0.52},{"age":19.4,"value":0.38},{"age":19.8,"value":0.61},{"age":20.2,"value":0.45},{"age":20.7,"value":0.39},{"age":21.0,"value":0.57},{"age":21.4,"value":0.44},{"age":21.8,"value":0.36},{"age":22.3,"value":0.53},{"age":22.9,"value":0.41},{"age":23.4,"value":0.55},{"age":23.9,"value":0.43},{"age":24.4,"value":0.5},{"age":24.8,"value":0.4},{"age":25.4,"value":0.49},{"age":26.1,"value":0.45},{"age":1.2,"value":0.22},{"age":2.8,"value":0.23},{"age":4.1,"value":0.26},{"age":6.0,"value":0.26},{"age":8.0,"value":0.24},{"age":10.2,"value":0.27},{"age":12.3,"value":0.27},{"age":14.0,"value":0.26},{"age":16.2,"value":0.27},{"age":18.0,"value":0.26},{"age":19.6,"value":0.27},{"age":2.4,"value":0.68},{"age":4.8,"value":0.66},{"age":7.0,"value":0.69},{"age":9.4,"value":0.63},{"age":10.8,"value":0.68},{"age":12.8,"value":0.63},{"age":14.8,"value":0.68},{"age":17.0,"value":0.64},{"age":19.3,"value":0.69},{"age":21.5,"value":0.68},{"age":23.5,"value":0.66},
      {"age":0.7,"value":0.39},{"age":0.9,"value":0.51},{"age":1.3,"value":0.31},{"age":1.6,"value":0.41},{"age":1.8,"value":0.29},{"age":2.2,"value":0.55},{"age":2.6,"value":0.45},{"age":2.7,"value":0.33},{"age":3.2,"value":0.64},{"age":3.4,"value":0.29},{"age":3.6,"value":0.39},{"age":3.9,"value":0.49},{"age":4.3,"value":0.57},{"age":4.4,"value":0.31},{"age":4.6,"value":0.43},{"age":4.9,"value":0.61},{"age":5.1,"value":0.35},{"age":5.4,"value":0.45},{"age":5.9,"value":0.38},{"age":6.0,"value":0.29},{"age":6.3,"value":0.54},{"age":6.6,"value":0.64},{"age":6.8,"value":0.33},{"age":7.2,"value":0.41},{"age":7.5,"value":0.52},{"age":7.7,"value":0.31},{"age":8.0,"value":0.61},{"age":8.3,"value":0.37},{"age":8.6,"value":0.46},{"age":8.9,"value":0.55},{"age":9.1,"value":0.29},{"age":9.3,"value":0.35},{"age":9.6,"value":0.48},{"age":9.8,"value":0.62},{"age":10.0,"value":0.41},{"age":10.4,"value":0.51},{"age":10.7,"value":0.31},{"age":10.9,"value":0.61},{"age":11.1,"value":0.36},{"age":11.4,"value":0.46},{"age":11.6,"value":0.55},{"age":11.9,"value":0.29},{"age":12.1,"value":0.62},{"age":12.4,"value":0.35},{"age":12.7,"value":0.43},{"age":13.0,"value":0.52},{"age":13.2,"value":0.33},{"age":13.5,"value":0.47},{"age":13.9,"value":0.4},{"age":14.0,"value":0.61},{"age":14.3,"value":0.31},{"age":14.5,"value":0.41},{"age":14.8,"value":0.52},{"age":15.0,"value":0.36},{"age":15.4,"value":0.59},{"age":15.6,"value":0.42},{"age":15.9,"value":0.5},{"age":16.2,"value":0.38},{"age":16.5,"value":0.31},{"age":16.8,"value":0.55},{"age":17.0,"value":0.44},{"age":17.3,"value":0.36},{"age":17.7,"value":0.6},{"age":17.9,"value":0.41},{"age":18.2,"value":0.5},{"age":18.5,"value":0.34},{"age":18.8,"value":0.58},{"age":19.0,"value":0.44},{"age":19.4,"value":0.53},{"age":19.7,"value":0.37},{"age":20.0,"value":0.5},{"age":20.3,"value":0.39},{"age":20.6,"value":0.58},{"age":20.9,"value":0.47},{"age":21.3,"value":0.4},{"age":21.6,"value":0.52},{"age":22.0,"value":0.45},{"age":22.4,"value":0.62},{"age":22.7,"value":0.38},{"age":23.0,"value":0.47},{"age":23.5,"value":0.41},{"age":23.9,"value":0.56},{"age":24.3,"value":0.47},{"age":24.6,"value":0.52},{"age":25.0,"value":0.43},{"age":25.5,"value":0.54},{"age":26.0,"value":0.5},{"age":26.4,"value":0.63},{"age":1.0,"value":0.23},{"age":2.3,"value":0.27},{"age":3.6,"value":0.23},{"age":5.0,"value":0.22},{"age":6.9,"value":0.25},{"age":8.8,"value":0.26},{"age":10.5,"value":0.23},{"age":13.3,"value":0.25},{"age":15.0,"value":0.27},{"age":17.4,"value":0.26},{"age":18.8,"value":0.27},{"age":20.0,"value":0.29},{"age":21.1,"value":0.27},{"age":23.4,"value":0.3}
    ],
    "igg_fit": [
      {"country":"India","age":18.0,"value":0.212},{"country":"India","age":86.9,"value":0.848},
      {"country":"Nepal","age":0.6,"value":0.41},{"country":"Nepal","age":27.2,"value":0.591}
    ],
    "minor_ages": [{"age":12.5},{"age":37.5},{"age":62.5},{"age":87.5}]
  },
  "concat": [
    {
      "width": 608, "height": 46,
      "data": {"values": [{"antigen": "OT56kda_IgM"}]},
      "layer": [
        {"mark": {"type": "rect", "color": "#000"},
         "encoding": {
           "x": {"field": "antigen", "type": "nominal", "axis": null, "scale": {"paddingInner": 0, "paddingOuter": 0}},
           "y": {"datum": 0, "type": "quantitative", "axis": null, "scale": {"domain": [0, 1], "nice": false}},
           "y2": {"datum": 1}}},
        {"mark": {"type": "text", "color": "#fff", "fontSize": 22.9, "font": "Liberation Sans"},
         "encoding": {
           "x": {"field": "antigen", "type": "nominal"},
           "y": {"datum": 0.5, "type": "quantitative"},
           "text": {"field": "antigen"}}}
      ]
    },
    {
      "width": 608, "height": 46,
      "data": {"values": [{"antigen": "OT56kda_IgG"}]},
      "layer": [
        {"mark": {"type": "rect", "color": "#000"},
         "encoding": {
           "x": {"field": "antigen", "type": "nominal", "axis": null, "scale": {"paddingInner": 0, "paddingOuter": 0}},
           "y": {"datum": 0, "type": "quantitative", "axis": null, "scale": {"domain": [0, 1], "nice": false}},
           "y2": {"datum": 1}}},
        {"mark": {"type": "text", "color": "#fff", "fontSize": 22.9, "font": "Liberation Sans"},
         "encoding": {
           "x": {"field": "antigen", "type": "nominal"},
           "y": {"datum": 0.5, "type": "quantitative"},
           "text": {"field": "antigen"}}}
      ]
    },
    {
      "width": 608, "height": 468,
      "layer": [
        {"data": {"name": "minor_ages"},
         "mark": {"type": "rule", "color": "#dddddd", "strokeWidth": 1},
         "encoding": {"x": {"field": "age", "type": "quantitative"}}},
        {"data": {"name": "igm_india"},
         "mark": {"type": "circle", "size": 44, "opacity": 0.75},
         "encoding": {
           "x": {"field": "age", "type": "quantitative",
                 "scale": {"domain": [-3.4, 91.15], "nice": false, "zero": false},
                 "axis": {"values": [0, 25, 50, 75], "title": "Age", "titleX": 615.5}},
           "y": {"field": "value", "type": "quantitative",
                 "scale": {"type": "log", "domain": [0.04153, 4.69], "nice": false},
                 "axis": {"values": [0.1, 1], "format": ".1f", "title": "Antibody Response Value"}},
           "color": {"datum": "India", "type": "nominal",
                     "scale": {"domain": ["India", "Nepal"], "range": ["#F8766D", "#00BFC4"]},
                     "title": "country",
                     "legend": {"orient": "none", "legendX": 437, "legendY": 632,
                                "encode": {"symbols": {"update": {"stroke": {"scale": "color", "field": "value"}, "strokeWidth": {"value": 6}, "opacity": {"value": 1}}}}}}}},
        {"data": {"name": "igm_fit"},
         "mark": {"type": "line", "strokeWidth": 5.5},
         "encoding": {
           "x": {"field": "age", "type": "quantitative"},
           "y": {"field": "value", "type": "quantitative"},
           "color": {"field": "country", "type": "nominal"}}}
      ]
    },
    {
      "width": 608, "height": 468,
      "layer": [
        {"data": {"name": "minor_ages"},
         "mark": {"type": "rule", "color": "#dddddd", "strokeWidth": 1},
         "encoding": {"x": {"field": "age", "type": "quantitative"}}},
        {"data": {"name": "igg_india"},
         "mark": {"type": "circle", "size": 44, "opacity": 0.75},
         "encoding": {
           "x": {"field": "age", "type": "quantitative",
                 "scale": {"domain": [-3.4, 91.15], "nice": false, "zero": false},
                 "axis": {"values": [0, 25, 50, 75], "title": null}},
           "y": {"field": "value", "type": "quantitative",
                 "scale": {"type": "log", "domain": [0.04153, 4.69], "nice": false},
                 "axis": {"values": [0.1, 1], "labels": false, "ticks": false, "title": null}},
           "color": {"datum": "India", "type": "nominal"}}},
        {"data": {"name": "igg_nepal"},
         "mark": {"type": "circle", "size": 44, "opacity": 0.75},
         "encoding": {
           "x": {"field": "age", "type": "quantitative"},
           "y": {"field": "value", "type": "quantitative"},
           "color": {"datum": "Nepal", "type": "nominal"}}},
        {"data": {"name": "igg_fit"},
         "mark": {"type": "line", "strokeWidth": 5.5},
         "encoding": {
           "x": {"field": "age", "type": "quantitative"},
           "y": {"field": "value", "type": "quantitative"},
           "color": {"field": "country", "type": "nominal"}}}
      ]
    }
  ],
  "columns": 2,
  "spacing": {"row": 0, "column": 15},
  "bounds": "flush",
  "config": {
    "font": "Liberation Sans",
    "view": {"stroke": "#000", "strokeWidth": 1.6},
    "axis": {
      "labelFont": "Liberation Sans", "titleFont": "Liberation Sans",
      "labelFontSize": 23, "labelColor": "#000",
      "titleFontSize": 30, "titleFontWeight": "normal", "titleColor": "#000",
      "tickColor": "#333", "tickSize": 8, "tickWidth": 1.4,
      "domain": false, "gridColor": "#a8a8a8", "gridWidth": 1
    },
    "axisX": {"labelPadding": 4, "titlePadding": 7, "titleFontSize": 28.6},
    "axisY": {"labelPadding": 8, "titlePadding": 5.3},
    "legend": {
      "direction": "horizontal", "titleOrient": "left",
      "titleFontSize": 29.2, "titleFontWeight": "normal", "titleColor": "#000",
      "labelFontSize": 23, "labelColor": "#000",
      "symbolType": "stroke", "symbolStrokeWidth": 6, "symbolSize": 1369,
      "labelOffset": 15, "columnPadding": 8, "titlePadding": 17, "symbolOpacity": 1
    }
  }
}
